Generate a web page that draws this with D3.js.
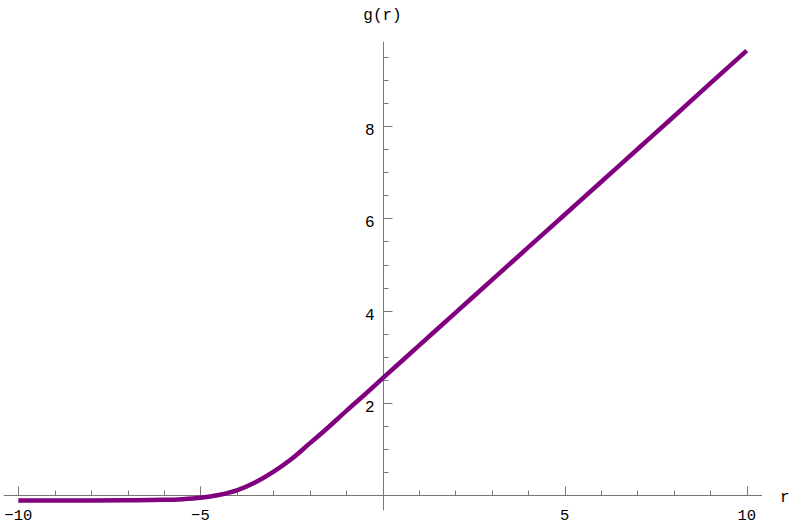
<!DOCTYPE html>
<html>
<head>
<meta charset="utf-8">
<script src="https://cdn.jsdelivr.net/npm/d3@7"></script>
<style>
  html, body { margin: 0; padding: 0; background: #fff; }
  svg text { font-family: "Liberation Mono", "Courier New", monospace; fill: #000; }
</style>
</head>
<body>
<svg id="chart" width="790" height="524"></svg>
<script>
// ---- data ----
const rValues = [-10, -9, -8, -7, -6, -5.5, -5, -4.5, -4, -3.5, -3, -2.5, -2, -1.5, -1, -0.5, 0, 1, 2, 3, 4, 5, 6, 7, 8, 9, 10];
const gValues = [-0.12, -0.12, -0.12, -0.115, -0.105, -0.09, -0.06, 0.0, 0.10, 0.27, 0.50, 0.78, 1.12, 1.46, 1.82, 2.17, 2.53, 3.24, 3.95, 4.66, 5.37, 6.08, 6.79, 7.50, 8.21, 8.93, 9.64];
const xMajorTicks = [-10, -5, 5, 10];
const xMajorLabels = ["\u221210", "\u22125", "5", "10"];
const xMinorTicks = [-9, -8, -7, -6, -4, -3, -2, -1, 1, 2, 3, 4, 6, 7, 8, 9];
const yMajorTicks = [2, 4, 6, 8];
const yMajorLabels = ["2", "4", "6", "8"];
const yMinorTicks = [0.5, 1, 1.5, 2.5, 3, 3.5, 4.5, 5, 5.5, 6.5, 7, 7.5, 8.5, 9, 9.5];
const xTitle = "r";
const yTitle = "g(r)";

// ---- scales ----
const x = d3.scaleLinear().domain([-10, 10]).range([18.3, 746.7]);
const y = d3.scaleLinear().domain([0, 8]).range([495, 126.2]);

const svg = d3.select("#chart");
const axisColor = "#777";

const y0 = Math.round(y(0)) + 0.5;
const x0 = Math.round(x(0)) + 0.5;

// x axis line
svg.append("line")
  .attr("x1", x(-10.4)).attr("x2", x(10.42))
  .attr("y1", y0).attr("y2", y0)
  .attr("stroke", axisColor).attr("stroke-width", 1);
// y axis line
svg.append("line")
  .attr("x1", x0).attr("x2", x0)
  .attr("y1", y(9.83)).attr("y2", y(-0.33))
  .attr("stroke", axisColor).attr("stroke-width", 1);

// x ticks
svg.append("g").selectAll("line").data(xMajorTicks).join("line")
  .attr("x1", d => Math.round(x(d)) + 0.5).attr("x2", d => Math.round(x(d)) + 0.5)
  .attr("y1", y0).attr("y2", y0 - 9)
  .attr("stroke", axisColor);
svg.append("g").selectAll("line").data(xMinorTicks).join("line")
  .attr("x1", d => Math.round(x(d)) + 0.5).attr("x2", d => Math.round(x(d)) + 0.5)
  .attr("y1", y0).attr("y2", y0 - 5)
  .attr("stroke", axisColor);
// y ticks
svg.append("g").selectAll("line").data(yMajorTicks).join("line")
  .attr("y1", d => Math.round(y(d)) + 0.5).attr("y2", d => Math.round(y(d)) + 0.5)
  .attr("x1", x0).attr("x2", x0 + 9)
  .attr("stroke", axisColor);
svg.append("g").selectAll("line").data(yMinorTicks).join("line")
  .attr("y1", d => Math.round(y(d)) + 0.5).attr("y2", d => Math.round(y(d)) + 0.5)
  .attr("x1", x0).attr("x2", x0 + 5)
  .attr("stroke", axisColor);

// x tick labels
svg.append("g").selectAll("text").data(xMajorTicks).join("text")
  .attr("x", d => x(d)).attr("y", 519.5)
  .attr("text-anchor", "middle").attr("font-size", 15.5)
  .text((d, i) => xMajorLabels[i]);
// y tick labels
svg.append("g").selectAll("text").data(yMajorTicks).join("text")
  .attr("x", x0 - 9).attr("y", d => y(d) + 9)
  .attr("text-anchor", "end").attr("font-size", 16)
  .text((d, i) => yMajorLabels[i]);

// axis titles
svg.append("text").attr("x", 780).attr("y", 501.5).attr("font-size", 16).text(xTitle);
svg.append("text").attr("x", x(0)).attr("y", 20).attr("text-anchor", "middle").attr("font-size", 16).text(yTitle);

// curve
const pts = rValues.map((r, i) => [r, gValues[i]]);
svg.append("path")
  .datum(pts)
  .attr("fill", "none")
  .attr("stroke", "#800080")
  .attr("stroke-width", 4.5)
  .attr("stroke-linejoin", "round")
  .attr("d", d3.line().x(d => x(d[0])).y(d => y(d[1])).curve(d3.curveMonotoneX));
</script>
</body>
</html>
